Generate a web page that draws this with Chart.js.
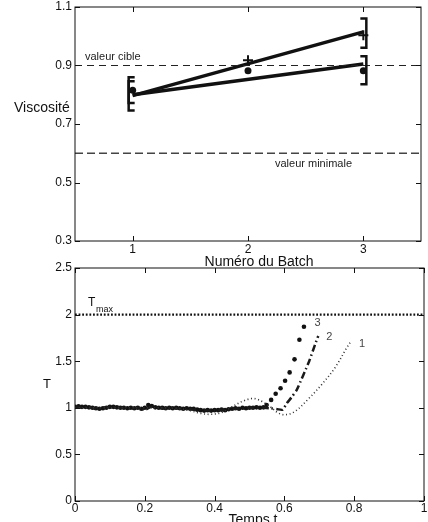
<!DOCTYPE html>
<html>
<head>
<meta charset="utf-8">
<script src="https://cdn.jsdelivr.net/npm/chart.js@4.4.0/dist/chart.umd.min.js"></script>
<style>
  html, body { margin: 0; padding: 0; background: #fff; width: 428px; height: 522px; overflow: hidden; }
  canvas { position: absolute; left: 0; }
  #topChart { top: 0; }
  #bottomChart { top: 262px; }
</style>
</head>
<body>
<canvas id="topChart" width="428" height="272" style="width:428px;height:272px"></canvas>
<canvas id="bottomChart" width="428" height="260" style="width:428px;height:260px"></canvas>
<script>
// ---- top chart data (viscosity per batch) ----
const batchTicks = [1, 2, 3];
const viscTicks = [0.3, 0.5, 0.7, 0.9, 1.1];
const fitBatch = [1, 3];
const fitUpper = [0.797, 1.015];
const fitLower = [0.800, 0.905];
const plusBatch = [2, 3];
const plusVisc = [0.918, 1.003];
const dotBatch = [1, 2, 3];
const dotVisc = [0.815, 0.882, 0.882];
const errBatch = [1, 1, 3, 3];
const errLow = [0.746, 0.772, 0.961, 0.836];
const errHigh = [0.860, 0.846, 1.061, 0.932];
const targetVisc = 0.9;
const minVisc = 0.6;

// ---- bottom chart data (temperature vs time) ----
const timeTicks = [0, 0.2, 0.4, 0.6, 0.8, 1];
const tempTicks = [0, 0.5, 1, 1.5, 2, 2.5];
const tMax = 2;
const t3 = [0, 0.01, 0.02, 0.03, 0.04, 0.05, 0.06, 0.07, 0.08, 0.09,
  0.10, 0.11, 0.12, 0.13, 0.14, 0.15, 0.16, 0.17, 0.18, 0.19,
  0.20, 0.21, 0.22, 0.23, 0.24, 0.25, 0.26, 0.27, 0.28, 0.29,
  0.30, 0.31, 0.32, 0.33, 0.34, 0.35, 0.36, 0.37, 0.38, 0.39,
  0.40, 0.41, 0.42, 0.43, 0.44, 0.45, 0.46, 0.47, 0.48, 0.49,
  0.50, 0.51, 0.52, 0.53, 0.54,
  0.549, 0.562, 0.575, 0.589, 0.602, 0.615, 0.629, 0.643, 0.656];
const temp3 = [1.01, 1.015, 1.01, 1.01, 1.005, 1.0, 0.995, 0.99, 0.995, 1.0,
  1.01, 1.01, 1.005, 1.0, 1.0, 0.995, 1.0, 0.995, 1.0, 0.99,
  1.0, 1.03, 1.02, 1.005, 1.0, 1.0, 0.995, 1.0, 0.995, 1.0,
  0.995, 0.99, 0.995, 0.99, 0.99, 0.98, 0.975, 0.97, 0.975, 0.97,
  0.975, 0.975, 0.98, 0.975, 0.985, 0.99, 0.995, 0.99, 1.0, 0.995,
  1.0, 1.0, 1.005, 1.0, 1.005,
  1.03, 1.085, 1.15, 1.21, 1.29, 1.38, 1.52, 1.73, 1.87];
const t2 = [0, 0.02, 0.04, 0.06, 0.08, 0.10, 0.12, 0.14, 0.16, 0.18,
  0.20, 0.22, 0.24, 0.26, 0.28, 0.30, 0.32, 0.34, 0.36, 0.38,
  0.40, 0.42, 0.44, 0.46, 0.48, 0.50, 0.52, 0.54, 0.56, 0.58,
  0.595, 0.607, 0.62, 0.635, 0.654, 0.671, 0.688, 0.697];
const temp2 = [1.01, 1.0, 1.01, 0.99, 1.0, 1.01, 1.0, 1.0, 0.99, 1.0,
  0.98, 1.01, 1.0, 0.99, 1.0, 0.99, 0.99, 0.98, 0.975, 0.97,
  0.975, 0.98, 0.985, 0.99, 0.995, 1.0, 1.0, 1.0, 0.995, 0.985,
  0.98, 1.05, 1.11, 1.19, 1.35, 1.50, 1.68, 1.77];
const t1 = [0, 0.05, 0.10, 0.15, 0.20, 0.25, 0.30, 0.33, 0.36, 0.39,
  0.42, 0.45, 0.48, 0.51, 0.535, 0.56, 0.58, 0.60, 0.63, 0.67,
  0.707, 0.745, 0.778, 0.79];
const temp1 = [1.0, 1.0, 1.0, 1.0, 1.0, 1.0, 0.99, 0.97, 0.94, 0.93,
  0.95, 1.01, 1.07, 1.10, 1.07, 1.01, 0.95, 0.925, 0.96, 1.10,
  1.25, 1.43, 1.64, 1.71];
const curveLabels = ['3', '2', '1'];
const curveLabelT = [0.686, 0.72, 0.814];
const curveLabelTemp = [1.91, 1.76, 1.68];

Chart.defaults.font.family = "'Liberation Sans', Arial, Helvetica, sans-serif";
Chart.defaults.font.size = 12;
Chart.defaults.color = '#111';

const pts = (xs, ys) => xs.map((v, i) => ({ x: v, y: ys[i] }));

// box + inward ticks on all four sides, like the original plot
const framePlugin = {
  id: 'frame',
  afterDraw(chart) {
    const { ctx, chartArea: a, scales: { x, y } } = chart;
    ctx.save();
    ctx.strokeStyle = '#111';
    ctx.lineWidth = 1;
    ctx.strokeRect(a.left, a.top, a.right - a.left, a.bottom - a.top);
    ctx.beginPath();
    x.ticks.forEach(t => {
      const px = Math.round(x.getPixelForValue(t.value)) + 0.5;
      ctx.moveTo(px, a.bottom); ctx.lineTo(px, a.bottom - 5);
      ctx.moveTo(px, a.top); ctx.lineTo(px, a.top + 5);
    });
    y.ticks.forEach(t => {
      const py = Math.round(y.getPixelForValue(t.value)) + 0.5;
      ctx.moveTo(a.left, py); ctx.lineTo(a.left + 5, py);
      ctx.moveTo(a.right, py); ctx.lineTo(a.right - 5, py);
    });
    ctx.stroke();
    ctx.restore();
  }
};

const fixAxis = (size, vertical) => (scale) => {
  if (vertical) scale.width = size; else scale.height = size;
  scale.paddingTop = 0; scale.paddingBottom = 0;
  scale.paddingLeft = 0; scale.paddingRight = 0;
};

// error brackets and texts of the top plot
const topPlugin = {
  id: 'topExtras',
  afterDatasetsDraw(chart) {
    const { ctx, scales: { x, y } } = chart;
    ctx.save();
    ctx.strokeStyle = '#111';
    ctx.lineWidth = 2.5;
    errBatch.forEach((b, i) => {
      const left = b < 2;
      const px = x.getPixelForValue(b) + (left ? -4 : 3);
      const dir = left ? 1 : -1;
      const y1 = y.getPixelForValue(errLow[i]);
      const y2 = y.getPixelForValue(errHigh[i]);
      ctx.beginPath();
      ctx.moveTo(px + dir * 6, y1);
      ctx.lineTo(px, y1);
      ctx.lineTo(px, y2);
      ctx.lineTo(px + dir * 6, y2);
      ctx.stroke();
    });
    ctx.fillStyle = '#222';
    ctx.textBaseline = 'middle';
    ctx.font = "11px 'Liberation Sans', Arial, sans-serif";
    ctx.fillText('valeur cible', 85, y.getPixelForValue(targetVisc) - 9);
    ctx.fillText('valeur minimale', 275, y.getPixelForValue(minVisc) + 11);
    ctx.fillStyle = '#111';
    ctx.font = "14px 'Liberation Sans', Arial, sans-serif";
    ctx.fillText('Viscosité', 14, 108);
    ctx.textAlign = 'center';
    ctx.fillText('Numéro du Batch', 259, 262);
    ctx.restore();
  }
};

new Chart(document.getElementById('topChart'), {
  type: 'line',
  data: {
    datasets: [
      { data: pts([0.5, 3.5], [targetVisc, targetVisc]), borderColor: '#222', borderWidth: 1,
        borderDash: [7, 5], pointRadius: 0 },
      { data: pts([0.5, 3.5], [minVisc, minVisc]), borderColor: '#444', borderWidth: 1.5,
        borderDash: [8, 4], pointRadius: 0 },
      { data: pts(fitBatch, fitUpper), borderColor: '#111', borderWidth: 3.5, pointRadius: 0 },
      { data: pts(fitBatch, fitLower), borderColor: '#111', borderWidth: 3.5, pointRadius: 0 },
      { data: pts(plusBatch, plusVisc), showLine: false, pointStyle: 'cross', pointRadius: 5,
        borderColor: '#111', pointBorderWidth: 2 },
      { data: pts(dotBatch, dotVisc), showLine: false, pointStyle: 'circle', pointRadius: 3.5,
        backgroundColor: '#111', borderColor: '#111', pointBorderWidth: 0 }
    ]
  },
  options: {
    responsive: false,
    animation: false,
    events: [],
    layout: { padding: { left: 0, top: 5, right: 4, bottom: 0 } },
    plugins: { legend: { display: false }, tooltip: { enabled: false } },
    scales: {
      x: {
        type: 'linear', min: 0.5, max: 3.5,
        afterBuildTicks: s => { s.ticks = batchTicks.map(v => ({ value: v })); },
        afterFit: fixAxis(31, false),
        grid: { display: false, drawTicks: false }, border: { display: false },
        ticks: { padding: 1, callback: v => String(v), maxRotation: 0 }
      },
      y: {
        type: 'linear', min: 0.3, max: 1.1,
        afterBuildTicks: s => { s.ticks = viscTicks.map(v => ({ value: v })); },
        afterFit: fixAxis(75, true),
        grid: { display: false, drawTicks: false }, border: { display: false },
        ticks: { padding: 3, callback: v => String(v) }
      }
    }
  },
  plugins: [topPlugin, framePlugin]
});

// Tmax text and curve numbers of the bottom plot
const bottomPlugin = {
  id: 'bottomExtras',
  afterDatasetsDraw(chart) {
    const { ctx, scales: { x, y } } = chart;
    ctx.save();
    ctx.textBaseline = 'middle';
    ctx.fillStyle = '#111';
    ctx.font = "12px 'Liberation Sans', Arial, sans-serif";
    ctx.fillText('T', 88, y.getPixelForValue(tMax) - 12);
    ctx.font = "9px 'Liberation Sans', Arial, sans-serif";
    ctx.fillText('max', 96, y.getPixelForValue(tMax) - 5);
    ctx.font = "11px 'Liberation Sans', Arial, sans-serif";
    ctx.fillStyle = '#444';
    curveLabels.forEach((s, i) => {
      ctx.fillText(s, x.getPixelForValue(curveLabelT[i]), y.getPixelForValue(curveLabelTemp[i]));
    });
    ctx.fillStyle = '#111';
    ctx.font = "13px 'Liberation Sans', Arial, sans-serif";
    ctx.fillText('T', 43, 122);
    ctx.font = "14px 'Liberation Sans', Arial, sans-serif";
    ctx.textAlign = 'center';
    ctx.fillText('Temps t', 253, 258);
    ctx.restore();
  }
};

new Chart(document.getElementById('bottomChart'), {
  type: 'line',
  data: {
    datasets: [
      { data: pts([0, 1], [tMax, tMax]), borderColor: '#111', borderWidth: 2.2,
        borderDash: [1.8, 1.8], pointRadius: 0 },
      { data: pts(t1, temp1), borderColor: '#333', borderWidth: 1.6, borderDash: [1, 2.6],
        pointRadius: 0, tension: 0.35 },
      { data: pts(t2, temp2), borderColor: '#1a1a1a', borderWidth: 2.5,
        borderDash: [7, 3, 1.5, 3], pointRadius: 0, tension: 0.2 },
      { data: pts(t3, temp3), showLine: false, pointStyle: 'circle', pointRadius: 2.3,
        backgroundColor: '#111', borderColor: '#111', pointBorderWidth: 0 }
    ]
  },
  options: {
    responsive: false,
    animation: false,
    events: [],
    layout: { padding: { left: 0, top: 6, right: 3, bottom: 0 } },
    plugins: { legend: { display: false }, tooltip: { enabled: false } },
    scales: {
      x: {
        type: 'linear', min: 0, max: 1,
        afterBuildTicks: s => { s.ticks = timeTicks.map(v => ({ value: v })); },
        afterFit: fixAxis(21, false),
        grid: { display: false, drawTicks: false }, border: { display: false },
        ticks: { padding: 0, callback: v => String(v), maxRotation: 0 }
      },
      y: {
        type: 'linear', min: 0, max: 2.5,
        afterBuildTicks: s => { s.ticks = tempTicks.map(v => ({ value: v })); },
        afterFit: fixAxis(75, true),
        grid: { display: false, drawTicks: false }, border: { display: false },
        ticks: { padding: 3, callback: v => String(v) }
      }
    }
  },
  plugins: [bottomPlugin, framePlugin]
});
</script>
</body>
</html>
